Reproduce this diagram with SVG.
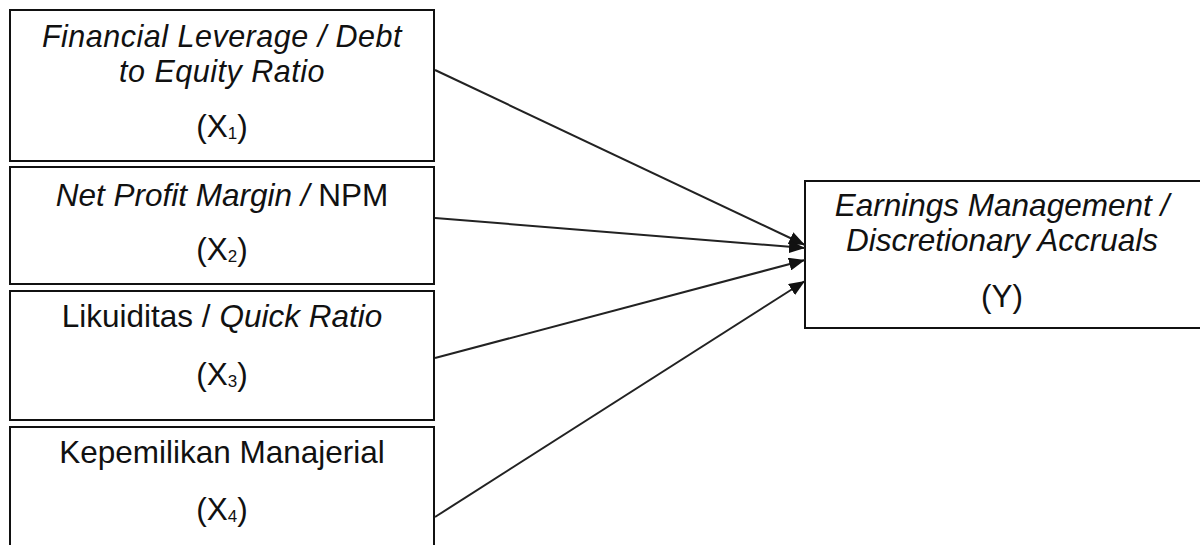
<svg xmlns="http://www.w3.org/2000/svg" width="1200" height="545" viewBox="0 0 1200 545">
<style>
.box{fill:#fff;stroke:#111;stroke-width:2}
.t{font-family:"Liberation Sans",Arial,sans-serif;font-size:31.5px;fill:#111;text-anchor:middle}
.s{font-size:30.5px;letter-spacing:0.5px}
.i{font-style:italic}
.sub{font-size:17px}
.c{stroke:#222;stroke-width:2;fill:none;marker-end:url(#ah)}
</style>
<defs>
<marker id="ah" markerUnits="userSpaceOnUse" markerWidth="17" markerHeight="13" refX="16" refY="6.5" orient="auto">
<path d="M0,0 L16,6.5 L0,13 Z" fill="#111"/>
</marker>
</defs>
<rect width="1200" height="545" fill="#fff"/>
<g id="x1">
<rect class="box" x="10" y="10" width="424" height="151"/>
<text class="t s i" x="222" y="47">Financial Leverage / Debt</text>
<text class="t s i" x="222" y="82">to Equity Ratio</text>
<text class="t" x="222" y="137">(X<tspan class="sub" dy="2">1</tspan><tspan dy="-2">)</tspan></text>
</g>
<g id="x2">
<rect class="box" x="10" y="167" width="424" height="117"/>
<text class="t" x="222" y="206"><tspan class="i">Net Profit Margin /</tspan> NPM</text>
<text class="t" x="222" y="260">(X<tspan class="sub" dy="2">2</tspan><tspan dy="-2">)</tspan></text>
</g>
<g id="x3">
<rect class="box" x="10" y="291" width="424" height="129"/>
<text class="t" x="222" y="327">Likuiditas / <tspan class="i">Quick Ratio</tspan></text>
<text class="t" x="222" y="385">(X<tspan class="sub" dy="2">3</tspan><tspan dy="-2">)</tspan></text>
</g>
<g id="x4">
<rect class="box" x="10" y="427" width="424" height="130"/>
<text class="t" x="222" y="463">Kepemilikan Manajerial</text>
<text class="t" x="222" y="520">(X<tspan class="sub" dy="2">4</tspan><tspan dy="-2">)</tspan></text>
</g>
<g id="y">
<rect class="box" x="805" y="181" width="400" height="147"/>
<text class="t i" x="1002" y="216">Earnings Management /</text>
<text class="t i" x="1002" y="251">Discretionary Accruals</text>
<text class="t" x="1002" y="307">(Y)</text>
</g>
<g id="connectors">
<line class="c" x1="435" y1="70" x2="805" y2="245"/>
<line class="c" x1="435" y1="218" x2="805" y2="248"/>
<line class="c" x1="435" y1="358" x2="805" y2="260"/>
<line class="c" x1="435" y1="517" x2="805" y2="281"/>
</g>
</svg>
